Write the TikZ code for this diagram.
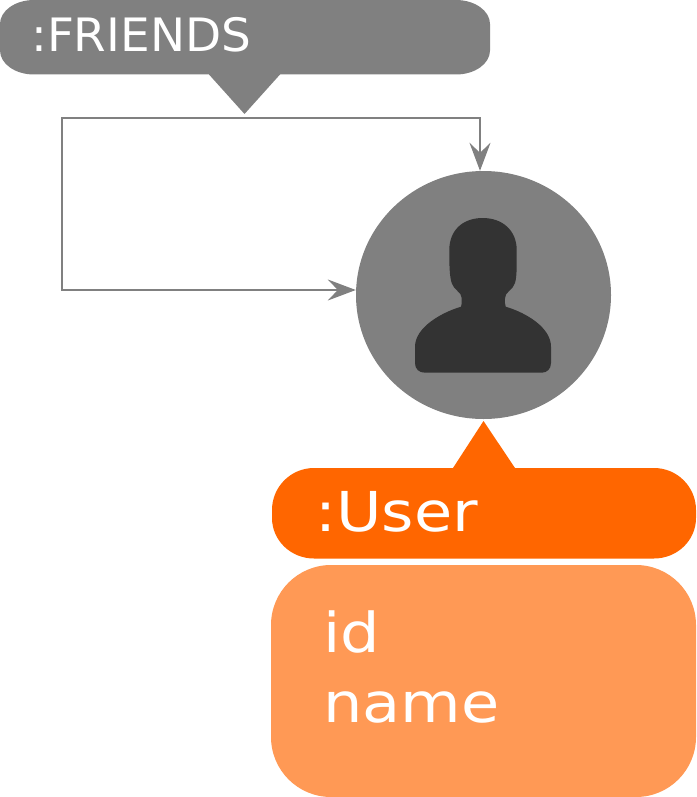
\documentclass[tikz,border=0pt]{standalone}
\usepackage{fontspec}
\setmainfont{DejaVu Sans}
\newfontfamily\bigfont[FakeStretch=1.13]{DejaVu Sans}
\newfontfamily\smallfont[FakeStretch=1.02]{DejaVu Sans}
\usetikzlibrary{arrows.meta,shapes.geometric}
\definecolor{relgray}{HTML}{808080}
\definecolor{icondark}{HTML}{333333}
\definecolor{labelorange}{HTML}{FF6600}
\definecolor{proporange}{HTML}{FF9955}
\tikzset{
	flow/.style={draw=relgray,line width=1.6pt,{Stealth[length=28pt,width=21pt,inset=10pt]}-{Stealth[length=28pt,width=21pt,inset=10pt]}},
	bigtext/.style={text=white,inner sep=0pt,anchor=base west,font=\bigfont\fontsize{55}{55}\selectfont},
	smalltext/.style={text=white,inner sep=0pt,anchor=base west,font=\smallfont\fontsize{46}{46}\selectfont}
}
\begin{document}
\begin{tikzpicture}[x=1pt,y=-1pt]
\useasboundingbox (0,0) rectangle (696,797);

\node[draw=none,fill=relgray,ellipse,inner sep=0pt,minimum width=255pt,minimum height=248pt] (user) at (483.5,295) {};

\coordinate (looptl) at (62,118);
\coordinate (looptr) at (480,118);
\coordinate (loopbl) at (62,290);
\draw[flow] (loopbl -| user.west)--(loopbl)--(looptl)--(looptr)--(looptr |- user.north);

\fill[icondark] (482.7,218) .. controls (462,218) and (449.3,231) .. (449.3,250)
	.. controls (449.3,266) and (449.5,276) .. (451.7,283)
	.. controls (453.5,290) and (461.7,292) .. (461.7,298)
	.. controls (461.7,302) and (462,305) .. (461,306.7)
	.. controls (440,313) and (415,328) .. (415,346.7)
	--(415,363) .. controls (415,369) and (419,372.7) .. (425,372.7)
	--(541.7,372.7) .. controls (547,372.7) and (551,369) .. (551,363)
	--(551,346.7) .. controls (551,328) and (527,313) .. (505.7,306.7)
	.. controls (504.7,305) and (505,302) .. (505,298)
	.. controls (505,292) and (513,290) .. (515,283)
	.. controls (517,276) and (516.7,266) .. (516.7,250)
	.. controls (516.7,231) and (503,218) .. (482.7,218)--cycle;

\fill[relgray] (0,24) arc[start angle=180,end angle=270,x radius=34,y radius=24]
	--(456,0) arc[start angle=270,end angle=360,x radius=34,y radius=24]
	--(490,50.5) arc[start angle=0,end angle=90,x radius=34,y radius=24]
	--(280,74.5)--(244.5,114)--(209,74.5)
	--(34,74.5) arc[start angle=90,end angle=180,x radius=34,y radius=24]--cycle;
\node[smalltext] (friends) at (31,52) {:FRIENDS};

\fill[labelorange] (272,510) arc[start angle=180,end angle=270,x radius=42,y radius=42]
	--(453,468)--(483.5,421)--(515,468)
	--(654,468) arc[start angle=270,end angle=360,x radius=42,y radius=42]
	--(696,518) arc[start angle=0,end angle=90,x radius=42,y radius=40.5]
	--(314,558.5) arc[start angle=90,end angle=180,x radius=42,y radius=40.5]--cycle;
\node[bigtext] (label) at (315,531) {:User};

\fill[proporange] (271,625) arc[start angle=180,end angle=270,x radius=60,y radius=60]
	--(636,565) arc[start angle=270,end angle=360,x radius=60,y radius=60]
	--(696,737) arc[start angle=0,end angle=90,x radius=60,y radius=60]
	--(331,797) arc[start angle=90,end angle=180,x radius=60,y radius=60]--cycle;
\node[bigtext] (propid) at (323,652) {id};
\node[bigtext] (propname) at (323,722) {name};

\end{tikzpicture}
\end{document}
